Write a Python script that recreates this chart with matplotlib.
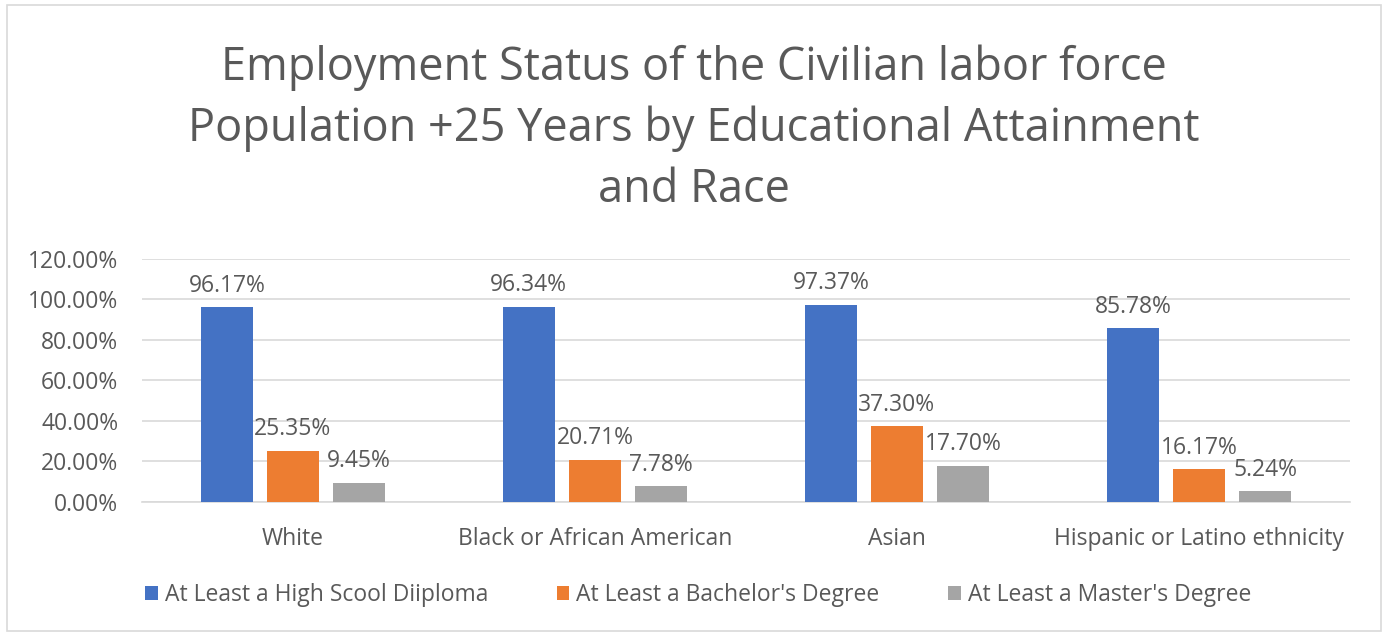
import numpy as np
import matplotlib
matplotlib.use("Agg")
from matplotlib import pyplot as plt
from matplotlib.patches import Rectangle

plt.rcParams['font.family'] = ['Open Sans', 'DejaVu Sans']

# data
races = ["White", "Black or African American", "Asian", "Hispanic or Latino ethnicity"]
high_school = [96.17, 96.34, 97.37, 85.78]
bachelor = [25.35, 20.71, 37.30, 16.17]
master = [9.45, 7.78, 17.70, 5.24]
series_names = ["At Least a High Scool Diiploma", "At Least a Bachelor's Degree", "At Least a Master's Degree"]
yticks = [0, 20, 40, 60, 80, 100, 120]

colors_ = ["#4472C4", "#ED7D31", "#A5A5A5"]
text_col = "#595959"

fig = plt.figure(figsize=(13.88, 6.36), dpi=100)
fig.patches.append(Rectangle((0.005, 0.008), 0.99, 0.984, transform=fig.transFigure,
                             fill=False, edgecolor="#D9D9D9", linewidth=1.2))

ax = fig.add_axes([0.1023, 0.2107, 0.8703, 0.3821])

x = np.arange(len(races))
width = 0.172
offset = 0.219
for i, (vals, name) in enumerate(zip([high_school, bachelor, master], series_names)):
    pos = x + (i - 1) * offset
    bars = ax.bar(pos, vals, width, color=colors_[i], label=name, zorder=3)
    for b, v in zip(bars, vals):
        ax.annotate(f"{v:.2f}%", (b.get_x() + b.get_width() / 2, v), xytext=(0, 7),
                    textcoords="offset points", ha="center", va="bottom",
                    fontsize=16.5, color=text_col, zorder=4)

ax.set_xlim(-0.5, len(races) - 0.5)
ax.set_ylim(0, 120)
ax.set_yticks(yticks)
ax.set_yticklabels([f"{t:.2f}%" for t in yticks], fontsize=16.5, color=text_col)
ax.set_xticks(x)
ax.set_xticklabels(races, fontsize=16.5, color=text_col)
ax.tick_params(axis="both", length=0)
ax.tick_params(axis="y", pad=17)
ax.tick_params(axis="x", pad=18)
ax.grid(axis="y", color="#D9D9D9", linewidth=1.2, zorder=0)
for s in ["top", "right", "left"]:
    ax.spines[s].set_visible(False)
ax.spines["bottom"].set_color("#D9D9D9")
ax.spines["bottom"].set_linewidth(1.2)

fig.text(0.5, 0.93, "Employment Status of the Civilian labor force\nPopulation +25 Years by Educational Attainment\nand Race",
         ha="center", va="top", fontsize=32.5, color=text_col, linespacing=1.42)

leg = fig.legend(loc="center", bbox_to_anchor=(0.503, 0.064), ncol=3, frameon=False,
                 fontsize=16.5, handlelength=0.55, handleheight=0.55, handletextpad=0.3,
                 columnspacing=3.0, labelcolor=text_col)

fig.savefig("out.png", dpi=100)
